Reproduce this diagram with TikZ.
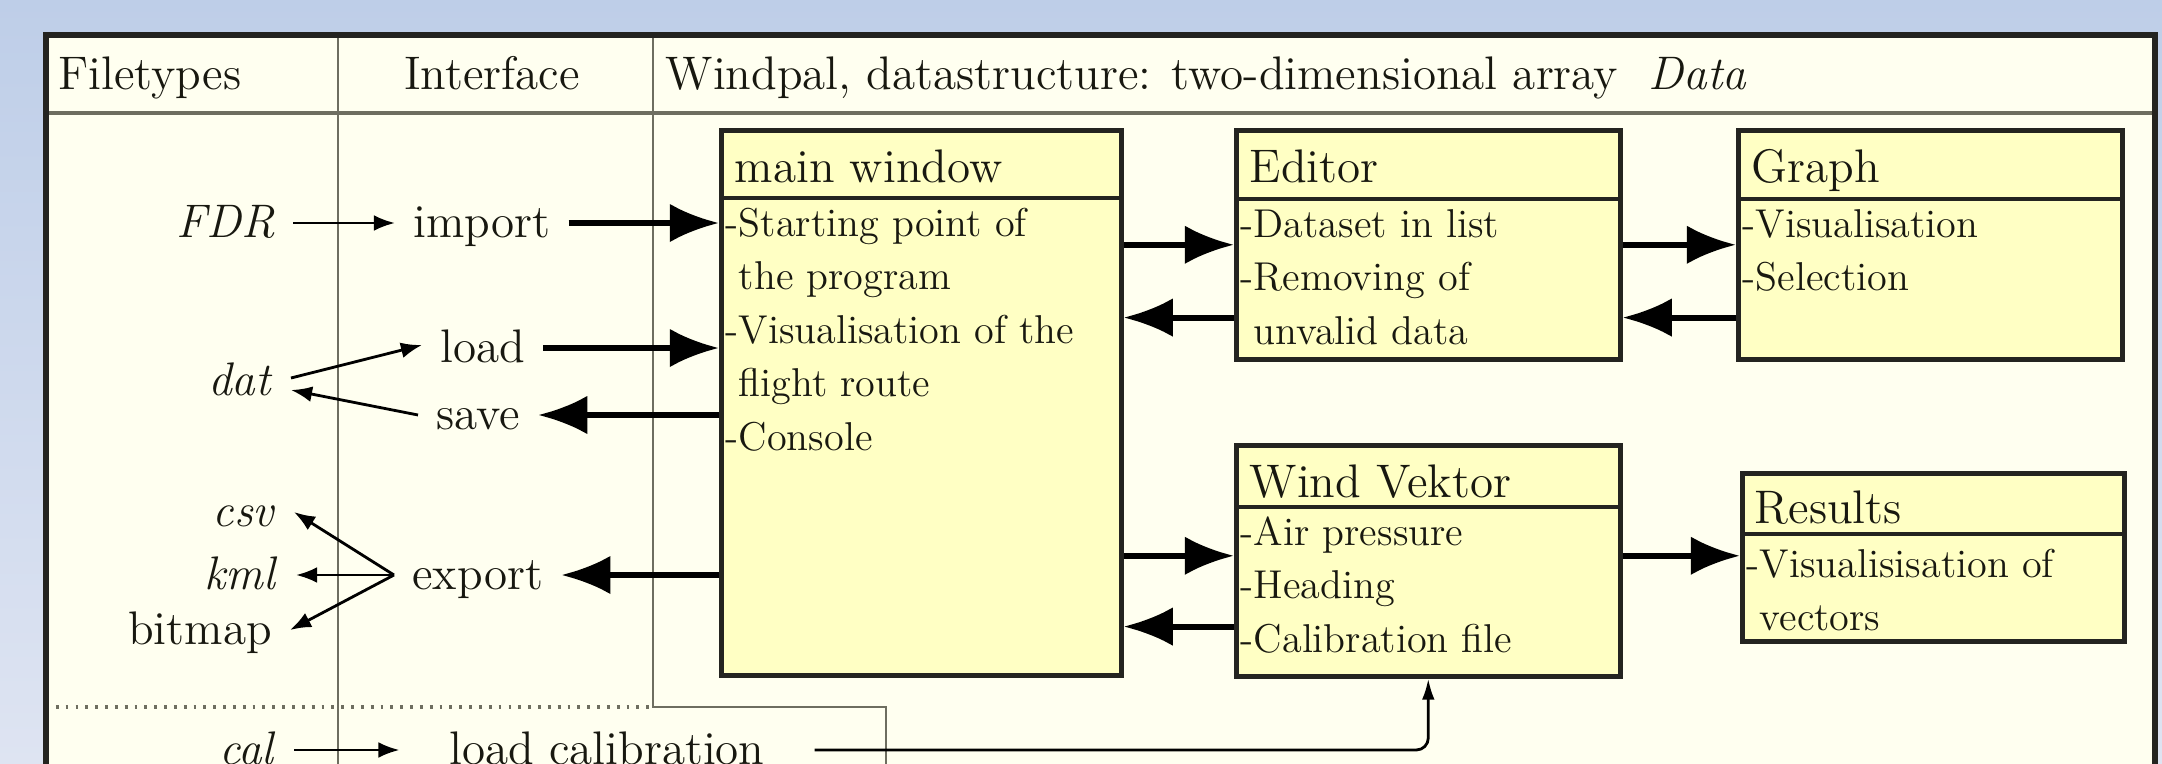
\documentclass[tikz,border=0pt]{standalone}
\usepackage{fontspec}
\usetikzlibrary{arrows.meta}

\definecolor{bgtop}{RGB}{190,206,232}
\definecolor{bgbot}{RGB}{222,228,242}
\definecolor{panel}{RGB}{255,255,240}
\definecolor{boxfill}{RGB}{255,255,196}
\definecolor{frame}{RGB}{36,36,32}
\definecolor{rule}{RGB}{110,110,96}
\definecolor{ink}{RGB}{24,24,16}

\tikzset{
  bigtext/.style={font=\fontsize{13.4}{15}\selectfont, text=ink},
  smalltext/.style={font=\fontsize{11.45}{13}\selectfont, text=ink, inner sep=0pt, anchor=base west},
  header/.style={bigtext, inner sep=0pt},
  label/.style={bigtext, inner xsep=5pt, inner ysep=0pt, text height=10.5pt, text depth=2pt},
  classbox/.style={draw=frame, fill=boxfill, line width=1.3pt, rectangle, inner sep=0pt, anchor=north west},
  boxtitle/.style={bigtext, inner sep=0pt, anchor=base west},
  separator/.style={draw=frame, line width=0.9pt},
  thickarrow/.style={line width=1.7pt, -{Latex[length=14pt,width=11pt]}},
  thinarrow/.style={line width=0.8pt, -{Latex[length=6pt,width=4.5pt]}},
  calarrow/.style={line width=0.8pt, -{Latex[length=6pt,width=3.6pt]}, rounded corners=1.2mm},
  lane/.style={draw=rule, line width=0.8pt},
}

\begin{document}
\begin{tikzpicture}[x=0.1mm, y=-0.1mm]
  \useasboundingbox (0,0) rectangle (2162,764);
  \clip (0,0) rectangle (2162,764);

  % slide background and the cream panel
  \shade[top color=bgtop, bottom color=bgbot] (0,0) rectangle (2162,764);
  \fill[panel] (46,35) rectangle (2155,820);

  % lane dividers
  \draw[lane, line width=0.9pt] (46,113) -- (2155,113);
  \draw[lane] (338,35) -- (338,820);
  \draw[lane] (653,35) -- (653,707) -- (886,707) -- (886,820);
  \draw[lane, dotted, line width=1pt] (46,707) -- (653,707);
  \draw[frame, line width=1.5pt] (46,35) rectangle (2155,820);

  % lane headers
  \node[header, anchor=base west] (hFile) at (58,89) {Filetypes};
  \node[header, anchor=base] (hIface) at (492,89) {Interface};
  \node[header, anchor=base west] (hWind) at (665,89)
    {Windpal, datastructure: two-dimensional array \ \textit{Data}};

  % ---------- class boxes ----------
  \node[classbox, minimum width=40mm, minimum height=54.5mm] (main) at (719,128) {};
  \draw[separator] ([yshift=-7mm]main.north west) -- ([yshift=-7mm]main.north east);
  \node[boxtitle] (mainT) at ([xshift=1.5mm,yshift=-5.4mm]main.north west) {main window};
  \node[smalltext] (main1) at ([xshift=0.6mm,yshift=-10.8mm]main.north west) {-Starting point of};
  \node[smalltext] (main2) at ([xshift=0.6mm,yshift=-16.15mm]main.north west) {\phantom{-}the program};
  \node[smalltext] (main3) at ([xshift=0.6mm,yshift=-21.5mm]main.north west) {-Visualisation of the};
  \node[smalltext] (main4) at ([xshift=0.6mm,yshift=-26.85mm]main.north west) {\phantom{-}flight route};
  \node[smalltext] (main5) at ([xshift=0.6mm,yshift=-32.2mm]main.north west) {-Console};

  \node[classbox, minimum width=38.4mm, minimum height=22.9mm] (editor) at (1234,128) {};
  \draw[separator] ([yshift=-7.1mm]editor.north west) -- ([yshift=-7.1mm]editor.north east);
  \node[boxtitle] (editorT) at ([xshift=1.5mm,yshift=-5.4mm]editor.north west) {Editor};
  \node[smalltext] (editor1) at ([xshift=0.6mm,yshift=-10.9mm]editor.north west) {-Dataset in list};
  \node[smalltext] (editor2) at ([xshift=0.6mm,yshift=-16.25mm]editor.north west) {-Removing of};
  \node[smalltext] (editor3) at ([xshift=0.6mm,yshift=-21.6mm]editor.north west) {\phantom{-}unvalid data};

  \node[classbox, minimum width=38.4mm, minimum height=22.9mm] (graph) at (1736,128) {};
  \draw[separator] ([yshift=-7.1mm]graph.north west) -- ([yshift=-7.1mm]graph.north east);
  \node[boxtitle] (graphT) at ([xshift=1.5mm,yshift=-5.4mm]graph.north west) {Graph};
  \node[smalltext] (graph1) at ([xshift=0.6mm,yshift=-10.9mm]graph.north west) {-Visualisation};
  \node[smalltext] (graph2) at ([xshift=0.6mm,yshift=-16.25mm]graph.north west) {-Selection};

  \node[classbox, minimum width=38.4mm, minimum height=23.1mm] (wind) at (1234,443) {};
  \draw[separator] ([yshift=-6.4mm]wind.north west) -- ([yshift=-6.4mm]wind.north east);
  \node[boxtitle] (windT) at ([xshift=1.5mm,yshift=-5.4mm]wind.north west) {Wind Vektor};
  \node[smalltext] (wind1) at ([xshift=0.6mm,yshift=-10.2mm]wind.north west) {-Air pressure};
  \node[smalltext] (wind2) at ([xshift=0.6mm,yshift=-15.55mm]wind.north west) {-Heading};
  \node[smalltext] (wind3) at ([xshift=0.6mm,yshift=-20.9mm]wind.north west) {-Calibration file};

  \node[classbox, minimum width=38.2mm, minimum height=16.8mm] (results) at (1740,471) {};
  \draw[separator] ([yshift=-6.3mm]results.north west) -- ([yshift=-6.3mm]results.north east);
  \node[boxtitle] (resultsT) at ([xshift=1.4mm,yshift=-5.2mm]results.north west) {Results};
  \node[smalltext] (results1) at ([xshift=0.6mm,yshift=-10.6mm]results.north west) {-Visualisisation of};
  \node[smalltext] (results2) at ([xshift=0.6mm,yshift=-15.95mm]results.north west) {\phantom{-}vectors};

  % ---------- file types and interface ----------
  \node[label, anchor=east] (fdr) at (293,223) {\textit{FDR}};
  \node[label, anchor=west] (import) at (395,223) {import};
  \node[label, anchor=east] (dat) at (291,381) {\textit{dat}};
  \node[label, anchor=west] (load) at (422,348) {load};
  \node[label, anchor=west] (save) at (418,415) {save};
  \node[label, anchor=east] (csv) at (294,512) {\textit{csv}};
  \node[label, anchor=east] (kml) at (296,575) {\textit{kml}};
  \node[label, anchor=east] (bitmap) at (290,630) {bitmap};
  \node[label, anchor=west] (export) at (394,575) {export};
  \node[label, anchor=east] (cal) at (294,750) {\textit{cal}};
  \node[label, inner xsep=14pt] (lcal) at (607,750) {load calibration};

  % ---------- connectors ----------
  \draw[thinarrow] (fdr) -- (import);
  \draw[thinarrow] ([yshift=0.3mm]dat.east) -- ([yshift=0.3mm]load.west);
  \draw[thinarrow] (save.west) -- ([yshift=-0.9mm]dat.east);
  \draw[thinarrow] (export.west) -- (csv.east);
  \draw[thinarrow] (export.west) -- (kml.east);
  \draw[thinarrow] (export.west) -- (bitmap.east);
  \draw[thinarrow] (cal) -- (lcal);

  \draw[thickarrow] (import) -- (import -| main.west);
  \draw[thickarrow] (load) -- (load -| main.west);
  \draw[thickarrow] (save -| main.west) -- (save);
  \draw[thickarrow] (export -| main.west) -- (export);

  \coordinate (edBack) at ([yshift=4.4mm]editor.south west);
  \coordinate (grBack) at ([yshift=4.4mm]graph.south west);
  \coordinate (wdIn) at ([yshift=0.5mm]wind.west);
  \coordinate (wdOut) at ([yshift=0.5mm]wind.east);
  \coordinate (wdBack) at ([yshift=5.2mm]wind.south west);

  \draw[thickarrow] (editor.west -| main.east) -- (editor.west);
  \draw[thickarrow] (edBack) -- (edBack -| main.east);
  \draw[thickarrow] (editor.east) -- (editor.east -| graph.west);
  \draw[thickarrow] (grBack) -- (grBack -| editor.east);
  \draw[thickarrow] (wdIn -| main.east) -- (wdIn);
  \draw[thickarrow] (wdBack) -- (wdBack -| main.east);
  \draw[thickarrow] (wdOut) -- (wdOut -| results.west);

  \draw[calarrow] (lcal.east) -| (wind.south);
\end{tikzpicture}
\end{document}
